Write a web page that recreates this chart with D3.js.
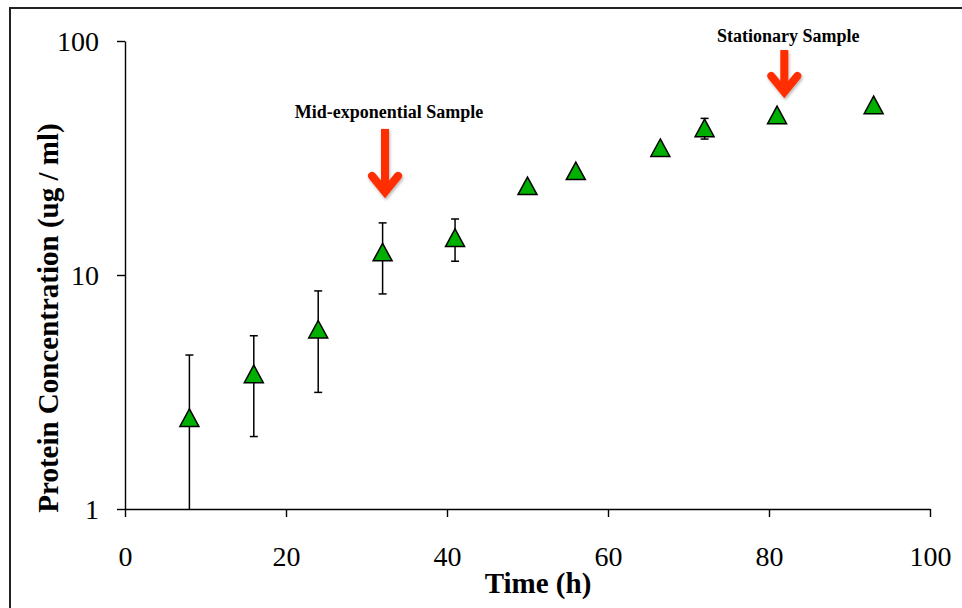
<!DOCTYPE html>
<html>
<head>
<meta charset="utf-8">
<script src="https://cdn.jsdelivr.net/npm/d3@7"></script>
<style>
  body { margin: 0; background: #fff; }
  svg { display: block; }
</style>
</head>
<body>
<svg width="962" height="608"></svg>
<script>
// Data
let times = [8, 16, 24, 32, 41, 50, 56, 66.5, 72, 81, 93];
let protein = [2.45, 3.77, 5.85, 12.5, 14.4, 24.0, 27.8, 34.9, 42.4, 48.2, 53.2];
let errors = [2.1, 1.73, 2.7, 4.2, 2.95, 0, 0, 0, 4.3, 0, 0];

let xTicks = [0, 20, 40, 60, 80, 100];
let yTicks = [1, 10, 100];

// annotations: label, x (h), text baseline, arrow top, arrow tip (in ug/ml)
let noteLabels = ["Mid-exponential Sample", "Stationary Sample"];
let noteX = [32.3, 81.9];
let noteTextY = [46.9, 99];
let noteTop = [42.1, 91.5];
let noteTip = [22.0, 58.8];

let svg = d3.select("svg"),
    width = +svg.attr("width"),
    height = +svg.attr("height");

let serif = "'Liberation Serif', 'Times New Roman', serif";

// outer frame
svg.append("rect")
    .attr("x", 10)
    .attr("y", 8)
    .attr("width", width + 20)
    .attr("height", height + 20)
    .attr("fill", "none")
    .attr("stroke", "#222")
    .attr("stroke-width", 2);

// scales
let x = d3.scaleLinear()
    .domain([0, 100])
    .range([125, 930]);

let y = d3.scaleLog()
    .domain([1, 100])
    .range([509, 41])
    .clamp(true);

let data = times.map((t, i) => ({ t: t, v: protein[i], e: errors[i] }));

// --------------- //
// AXES //
// --------------- //
let xAxis = svg.append("g")
    .attr("transform", "translate(0," + y(1) + ")")
    .call(d3.axisBottom(x).tickValues(xTicks).tickSize(8).tickSizeOuter(0));

xAxis.selectAll("text")
    .attr("y", 57)
    .attr("dy", 0)
    .style("font-family", serif)
    .style("font-size", "28px")
    .attr("fill", "#000");

let yAxis = svg.append("g")
    .attr("transform", "translate(" + x(0) + ",0)")
    .call(d3.axisLeft(y).tickValues(yTicks).tickFormat(d3.format("d")).tickSize(8).tickSizeOuter(0));

yAxis.selectAll("text")
    .attr("x", -26)
    .attr("dy", "0.33em")
    .style("font-family", serif)
    .style("font-size", "28px")
    .attr("fill", "#000");

svg.selectAll(".domain, .tick line")
    .attr("stroke", "#000")
    .attr("stroke-width", 1.4);

// axis titles
svg.append("text")
    .attr("x", 538)
    .attr("y", 593)
    .attr("text-anchor", "middle")
    .style("font-family", serif)
    .style("font-weight", "bold")
    .style("font-size", "29px")
    .text("Time (h)");

svg.append("text")
    .attr("transform", "translate(58,318) rotate(-90)")
    .attr("text-anchor", "middle")
    .style("font-family", serif)
    .style("font-weight", "bold")
    .style("font-size", "29px")
    .text("Protein Concentration (ug / ml)");

// --------------- //
// ERROR BARS //
// --------------- //
let bars = svg.append("g")
    .selectAll("g")
    .data(data.filter(d => d.e > 0))
    .enter()
    .append("g")
    .attr("stroke", "#000")
    .attr("stroke-width", 1.5);

bars.append("line")
    .attr("x1", d => x(d.t))
    .attr("x2", d => x(d.t))
    .attr("y1", d => y(d.v + d.e))
    .attr("y2", d => y(Math.max(d.v - d.e, 1)));

bars.append("line")
    .attr("x1", d => x(d.t) - 4)
    .attr("x2", d => x(d.t) + 4)
    .attr("y1", d => y(d.v + d.e))
    .attr("y2", d => y(d.v + d.e));

bars.filter(d => d.v - d.e > 1)
    .append("line")
    .attr("x1", d => x(d.t) - 4)
    .attr("x2", d => x(d.t) + 4)
    .attr("y1", d => y(d.v - d.e))
    .attr("y2", d => y(d.v - d.e));

// --------------- //
// MARKERS //
// --------------- //
svg.append("g")
    .selectAll("path")
    .data(data)
    .enter()
    .append("path")
    .attr("d", "M0,-9L9.5,8.5L-9.5,8.5Z")
    .attr("transform", d => "translate(" + x(d.t) + "," + y(d.v) + ")")
    .attr("fill", "#00b000")
    .attr("stroke", "#000")
    .attr("stroke-width", 1.5)
    .attr("stroke-linejoin", "miter");

// --------------- //
// ANNOTATIONS //
// --------------- //
let defs = svg.append("defs");
defs.append("filter")
    .attr("id", "shadow")
    .attr("x", "-50%").attr("y", "-50%")
    .attr("width", "200%").attr("height", "200%")
    .append("feDropShadow")
    .attr("dx", 1)
    .attr("dy", 2)
    .attr("stdDeviation", 1.5)
    .attr("flood-color", "#000")
    .attr("flood-opacity", 0.3);

noteLabels.forEach((label, i) => {
    let ax = x(noteX[i]);
    let top = y(noteTop[i]);
    let tip = y(noteTip[i]);

    svg.append("text")
        .attr("x", ax + 4)
        .attr("y", y(noteTextY[i]))
        .attr("text-anchor", "middle")
        .style("font-family", serif)
        .style("font-weight", "bold")
        .style("font-size", "18px")
        .text(label);

    let arrow = svg.append("g")
        .attr("filter", "url(#shadow)")
        .attr("stroke", "#ff2d00")
        .attr("stroke-width", 8)
        .attr("fill", "none");

    arrow.append("line")
        .attr("x1", ax)
        .attr("x2", ax)
        .attr("y1", top)
        .attr("y2", tip - 4);

    arrow.append("path")
        .attr("d", "M" + (ax - 13) + "," + (tip - 19) + "L" + ax + "," + (tip - 3) + "L" + (ax + 13) + "," + (tip - 19))
        .attr("stroke-linecap", "round")
        .attr("stroke-linejoin", "miter");
});
</script>
</body>
</html>
